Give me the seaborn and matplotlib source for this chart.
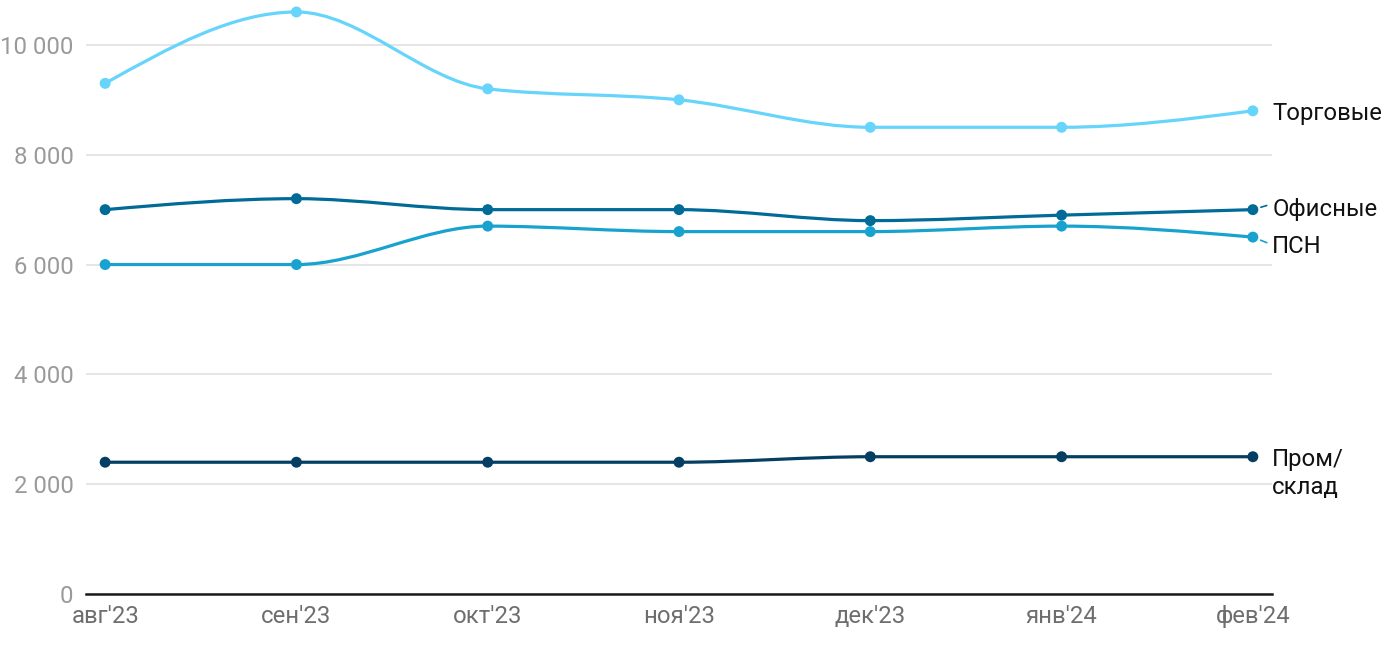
import numpy as np
import pandas as pd
import matplotlib
matplotlib.use("Agg")
import matplotlib.pyplot as plt
from matplotlib.path import Path
from matplotlib.patches import PathPatch
import seaborn as sns

# data
months = ["авг'23", "сен'23", "окт'23", "ноя'23", "дек'23", "янв'24", "фев'24"]
trade = [9300, 10600, 9200, 9000, 8500, 8500, 8800]
office = [7000, 7200, 7000, 7000, 6800, 6900, 7000]
psn = [6000, 6000, 6700, 6600, 6600, 6700, 6500]
warehouse = [2400, 2400, 2400, 2400, 2500, 2500, 2500]

series = {
    "Торговые": trade,
    "Офисные": office,
    "ПСН": psn,
    "Пром/\nсклад": warehouse,
}
colors = {
    "Торговые": "#66d4fb",
    "Офисные": "#006b96",
    "ПСН": "#17a2cf",
    "Пром/\nсклад": "#043f63",
}

sns.set_theme(style="white")
plt.rcParams['font.family'] = ['Roboto', 'DejaVu Sans']


def monotone_path(xs, ys):
    # cubic bezier path, monotone-x tangents (like d3.curveMonotoneX)
    xs = np.asarray(xs, float)
    ys = np.asarray(ys, float)
    n = len(xs)
    h = np.diff(xs)
    s = np.diff(ys) / h
    t = np.zeros(n)
    for i in range(1, n - 1):
        p = (s[i - 1] * h[i] + s[i] * h[i - 1]) / (h[i - 1] + h[i])
        t[i] = (np.sign(s[i - 1]) + np.sign(s[i])) * min(abs(s[i - 1]), abs(s[i]), 0.5 * abs(p))
    t[0] = (3 * s[0] - t[1]) / 2
    t[-1] = (3 * s[-1] - t[-2]) / 2
    verts = [(xs[0], ys[0])]
    codes = [Path.MOVETO]
    for i in range(n - 1):
        dx = h[i] / 3
        verts += [(xs[i] + dx, ys[i] + dx * t[i]),
                  (xs[i + 1] - dx, ys[i + 1] - dx * t[i + 1]),
                  (xs[i + 1], ys[i + 1])]
        codes += [Path.CURVE4] * 3
    return Path(verts, codes)


rows = []
for name, vals in series.items():
    for i, v in enumerate(vals):
        rows.append({"x": i, "value": v, "series": name})
df = pd.DataFrame(rows)

fig = plt.figure(figsize=(14, 6.5), dpi=100)
ax = fig.add_axes([86 / 1400, 1 - 594 / 650, (1272 - 86) / 1400, 593 / 650])

for name, vals in series.items():
    patch = PathPatch(monotone_path(range(len(vals)), vals), facecolor="none",
                      edgecolor=colors[name], lw=2.3, zorder=3, capstyle="round")
    ax.add_patch(patch)

sns.scatterplot(data=df, x="x", y="value", hue="series", palette=colors,
                s=62, edgecolor="none", legend=False, zorder=4, ax=ax)

fs = 17.2
ax.set_xlim(-0.1, 6.1)
ax.set_ylim(0, 10800)
ax.set_yticks([0, 2000, 4000, 6000, 8000, 10000])
ax.set_yticklabels([f"{v:,}".replace(",", " ") for v in [0, 2000, 4000, 6000, 8000, 10000]])
ax.set_xticks(range(len(months)))
ax.set_xticklabels(months)
ax.tick_params(axis="y", labelsize=fs, labelcolor="#9a9a9a", length=0, pad=9)
ax.tick_params(axis="x", labelsize=fs, labelcolor="#6e6e6e", length=0, pad=8)
ax.set_xlabel("")
ax.set_ylabel("")
ax.yaxis.grid(True, color="#e3e3e3", lw=1.3)
ax.set_axisbelow(True)
for sp in ["top", "right", "left"]:
    ax.spines[sp].set_visible(False)
ax.spines["bottom"].set_color("#1a1a1a")
ax.spines["bottom"].set_linewidth(1.8)

# end labels
last = len(months) - 1
label_offsets = {
    "Торговые": (0, -2),
    "Офисные": (0, 0),
    "ПСН": (0, -7),
    "Пром/\nсклад": (0, -12),
}
for name, vals in series.items():
    dx, dy = label_offsets[name]
    ax.annotate(name, xy=(last, vals[-1]), xytext=(14, dy), textcoords="offset points",
                fontsize=fs, color="#111111", va="center", ha="left", linespacing=1.3,
                annotation_clip=False)
# tiny connectors
ax.annotate("", xy=(last, office[-1]), xytext=(10, 3), textcoords="offset points",
            arrowprops=dict(arrowstyle="-", color=colors["Офисные"], lw=1.2,
                            shrinkA=0, shrinkB=6), annotation_clip=False)
ax.annotate("", xy=(last, psn[-1]), xytext=(10, -4), textcoords="offset points",
            arrowprops=dict(arrowstyle="-", color=colors["ПСН"], lw=1.2,
                            shrinkA=0, shrinkB=6), annotation_clip=False)

fig.savefig("out.png", dpi=100)
